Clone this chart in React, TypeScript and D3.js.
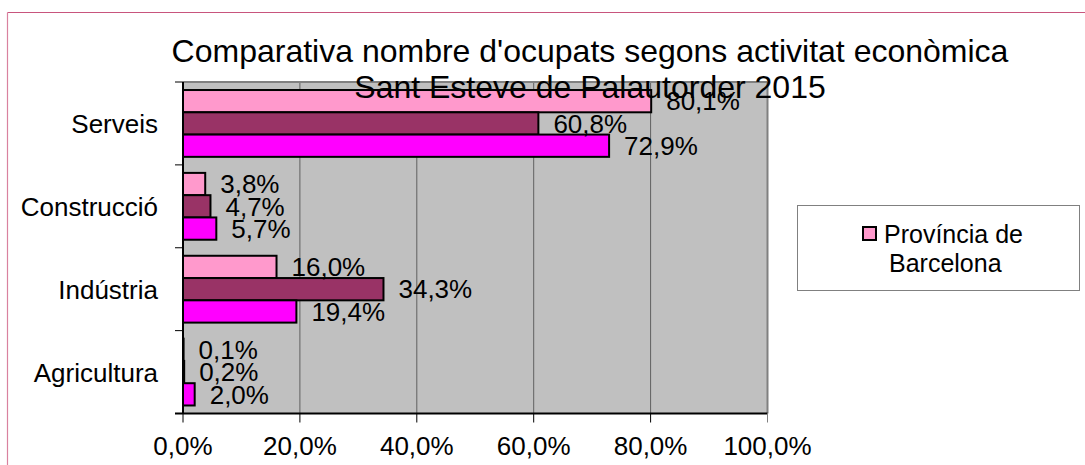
import React from "react";
import * as d3 from "d3";

const categories = ["Serveis", "Construcció", "Indústria", "Agricultura"];
const seriesNames = ["Província de Barcelona", "Vallès Oriental", "Sant Esteve de Palautorder"];
const provincia = [80.1, 3.8, 16.0, 0.1];
const comarca = [60.8, 4.7, 34.3, 0.2];
const municipi = [72.9, 5.7, 19.4, 2.0];
const seriesColors = ["#FF99CC", "#993366", "#FF00FF"];
const xTicks = [0, 20, 40, 60, 80, 100];
const titleLines = ["Comparativa nombre d'ocupats segons activitat econòmica", "Sant Esteve de Palautorder 2015"];

const W = 1085;
const H = 465;
const FONT = "'Liberation Sans', Arial, Helvetica, sans-serif";

const fmt = (v: number) => v.toFixed(1).replace(".", ",") + "%";

export default function App() {
  const seriesValues = [provincia, comarca, municipi];
  const left = 183, right = 767.5, top = 82, bottom = 413.5;
  const x = d3.scaleLinear().domain([0, 100]).range([left, right]);
  const y = d3.scaleBand<string>().domain(categories).range([top, bottom]).paddingInner(0).paddingOuter(0);
  const bandW = y.bandwidth();
  const inner = d3.scaleBand<number>().domain([0, 1, 2]).range([0, bandW]).paddingOuter(0.36).paddingInner(0);

  const catBoundaries = categories.map((c) => y(c) as number).concat([bottom]);

  return (
    <svg width={W} height={H} style={{ position: "absolute", left: 0, top: 0, background: "#fff" }} fontFamily={FONT}>
      {/* chart border */}
      <line x1={7.5} y1={12.5} x2={W} y2={12.5} stroke="#C8557D" strokeWidth={1} />
      <line x1={7.5} y1={12.5} x2={7.5} y2={H} stroke="#D9829F" strokeWidth={1.2} />

      {/* plot area */}
      <rect x={left} y={top} width={right - left} height={bottom - top} fill="#C0C0C0" />
      {xTicks.slice(1, -1).map((t) => (
        <line key={"g" + t} x1={x(t)} x2={x(t)} y1={top} y2={bottom} stroke="#606060" strokeWidth={1} />
      ))}
      {/* plot border top/right */}
      <line x1={left} x2={right} y1={top} y2={top} stroke="#808080" strokeWidth={2} />
      <line x1={right} x2={right} y1={top} y2={bottom} stroke="#808080" strokeWidth={2} />

      {/* bars */}
      {seriesValues.map((vals, si) =>
        vals.map((v, ci) => {
          const by = (y(categories[ci]) as number) + (inner(si) as number);
          return (
            <rect
              key={`b${si}-${ci}`}
              x={x(0)}
              y={by}
              width={x(v) - x(0)}
              height={inner.bandwidth()}
              fill={seriesColors[si]}
              stroke="#000"
              strokeWidth={2}
            />
          );
        })
      )}

      {/* axes */}
      <line x1={left} x2={left} y1={top} y2={bottom} stroke="#000" strokeWidth={2} />
      <line x1={left - 8} x2={right} y1={bottom} y2={bottom} stroke="#000" strokeWidth={2} />
      {catBoundaries.map((b, i) => (
        <line key={"yt" + i} x1={left - 8} x2={left} y1={b} y2={b} stroke="#000" strokeWidth={1} />
      ))}
      {xTicks.map((t) => (
        <line key={"xt" + t} x1={x(t)} x2={x(t)} y1={bottom} y2={bottom + 9} stroke={t === 100 ? "#808080" : "#000"} strokeWidth={1} />
      ))}

      {/* category labels */}
      {categories.map((c) => (
        <text key={"c" + c} x={158} y={(y(c) as number) + bandW / 2 + 9.5} textAnchor="end" fontSize={26} fill="#000">
          {c}
        </text>
      ))}

      {/* x tick labels */}
      {xTicks.map((t) => (
        <text key={"xl" + t} x={x(t)} y={455} textAnchor="middle" fontSize={26} fill="#000">
          {fmt(t)}
        </text>
      ))}

      {/* data labels */}
      {seriesValues.map((vals, si) =>
        vals.map((v, ci) => {
          const by = (y(categories[ci]) as number) + (inner(si) as number) + inner.bandwidth() / 2;
          return (
            <text key={`l${si}-${ci}`} x={x(v) + 15} y={by + 9.3} fontSize={26} fill="#000">
              {fmt(v)}
            </text>
          );
        })
      )}

      {/* legend */}
      <rect x={797.5} y={205.5} width={282} height={85} fill="#fff" stroke="#808080" strokeWidth={1} />
      <rect x={863} y={227} width={13} height={13} fill={seriesColors[0]} stroke="#000" strokeWidth={2} />
      <text x={884} y={243} fontSize={25} fill="#000">Província de</text>
      <text x={889} y={272} fontSize={25} fill="#000">Barcelona</text>

      {/* title */}
      {titleLines.map((t, i) => (
        <text key={"t" + i} x={590} y={62 + i * 36} textAnchor="middle" fontSize={32} fill="#000">
          {t}
        </text>
      ))}
    </svg>
  );
}
